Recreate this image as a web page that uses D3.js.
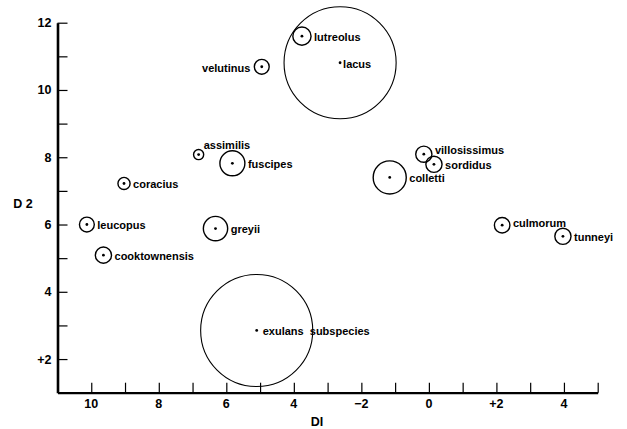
<!DOCTYPE html>
<html>
<head>
<meta charset="utf-8">
<script src="https://cdn.jsdelivr.net/npm/d3@7"></script>
<style>
  html, body { margin: 0; padding: 0; background: #fff; }
  text { font-family: "Liberation Sans", Arial, Helvetica, sans-serif; font-weight: bold; fill: #000; white-space: pre; }
</style>
</head>
<body>
<svg id="chart" width="627" height="429"></svg>
<script>
// ---- data ----
const taxa = ["lutreolus", "lacus", "velutinus", "assimilis", "fuscipes", "coracius",
  "leucopus", "greyii", "cooktownensis", "exulans  subspecies", "villosissimus",
  "sordidus", "colletti", "culmorum", "tunneyi"];
const d1 = [-3.76, -2.63, -4.95, -6.82, -5.82, -9.03, -10.13, -6.32, -9.64, -5.10, -0.15, 0.15, -1.16, 2.17, 3.97];
const d2 = [11.60, 10.81, 10.69, 8.08, 7.82, 7.22, 6.00, 5.88, 5.09, 2.85, 8.09, 7.79, 7.40, 5.98, 5.65];
const spread = [0.27, 1.66, 0.22, 0.15, 0.37, 0.18, 0.22, 0.36, 0.24, 1.66, 0.24, 0.24, 0.49, 0.23, 0.24];
// label placement: which side of the marker
const labelSide = ["right", "dot", "left", "above", "right", "right", "right", "right",
  "right", "dot", "rightUp", "right", "right", "rightUp2", "right"];

const xTickValues = [-10, -8, -6, -4, -2, 0, 2, 4];
const xTickLabels = ["10", "8", "6", "4", "\u22122", "0", "+2", "4"];
const yTickValues = [2, 4, 6, 8, 10, 12];
const yTickLabels = ["+2", "4", "6", "8", "10", "12"];

// ---- layout ----
const svg = d3.select("#chart");
const x = d3.scaleLinear().domain([-11, 5]).range([57.5, 597.7]);
const y = d3.scaleLinear().domain([1, 12]).range([392.7, 22.7]);
const rPx = v => x(v) - x(0);

// axes (ticks pointing inward)
const xAxis = d3.axisBottom(x).tickValues(d3.range(-10, 6, 1)).tickSizeInner(-10).tickSizeOuter(0).tickFormat("");
const gx = svg.append("g").attr("transform", `translate(0,${y(1)})`).call(xAxis);
gx.select(".domain").attr("stroke", "#000").attr("stroke-width", 2.2);
gx.selectAll(".tick line").attr("stroke", "#000").attr("stroke-width", 1.2);

const yAxis = d3.axisLeft(y).tickValues(d3.range(2, 13, 1)).tickSizeInner(-10).tickSizeOuter(0).tickFormat("");
const gy = svg.append("g").attr("transform", `translate(${x(-11)},0)`).call(yAxis);
gy.select(".domain").attr("stroke", "#000").attr("stroke-width", 2.6);
gy.selectAll(".tick line").attr("stroke", "#000").attr("stroke-width", 1.2);

// tick labels
svg.append("g").selectAll("text").data(xTickValues).join("text")
  .attr("x", d => x(d)).attr("y", 407.5)
  .attr("text-anchor", "middle").attr("font-size", 12.5)
  .text((d, i) => xTickLabels[i]);
svg.append("g").selectAll("text").data(yTickValues).join("text")
  .attr("x", 51.5).attr("y", d => y(d)).attr("dy", "0.36em")
  .attr("text-anchor", "end").attr("font-size", 12.5)
  .text((d, i) => yTickLabels[i]);

// axis titles
svg.append("text").attr("x", 317).attr("y", 426).attr("text-anchor", "middle")
  .attr("font-size", 12.5).text("DI");
svg.append("text").attr("x", 23).attr("y", 203).attr("dy", "0.36em").attr("text-anchor", "middle")
  .attr("font-size", 12.5).text("D 2");

// markers
const pts = taxa.map((name, i) => ({ name, d1: d1[i], d2: d2[i], s: spread[i], side: labelSide[i] }));
const g = svg.append("g");
g.selectAll("circle.ring").data(pts).join("circle").attr("class", "ring")
  .attr("cx", d => x(d.d1)).attr("cy", d => y(d.d2)).attr("r", d => rPx(d.s))
  .attr("fill", "none").attr("stroke", "#000")
  .attr("stroke-width", d => d.s > 1 ? 1.1 : 1.4);
g.selectAll("circle.dot").data(pts).join("circle").attr("class", "dot")
  .attr("cx", d => x(d.d1)).attr("cy", d => y(d.d2)).attr("r", 1.4).attr("fill", "#000");

g.selectAll("text").data(pts).join("text")
  .attr("font-size", 11)
  .attr("x", d => {
    const cx = x(d.d1), r = rPx(d.s);
    if (d.side === "left") return cx - r - 4;
    if (d.side === "above") return cx + r;
    if (d.side === "dot") return cx + (d.s > 1.5 && d.d2 < 5 ? 6 : 3);
    return cx + r + 3;
  })
  .attr("y", d => {
    const cy = y(d.d2);
    if (d.side === "above") return cy - 9.5;
    if (d.side === "rightUp") return cy - 4;
    if (d.side === "rightUp2") return cy - 2.5;
    return cy + 1;
  })
  .attr("dy", "0.35em")
  .attr("text-anchor", d => d.side === "left" ? "end" : "start")
  .text(d => d.name);
</script>
</body>
</html>
